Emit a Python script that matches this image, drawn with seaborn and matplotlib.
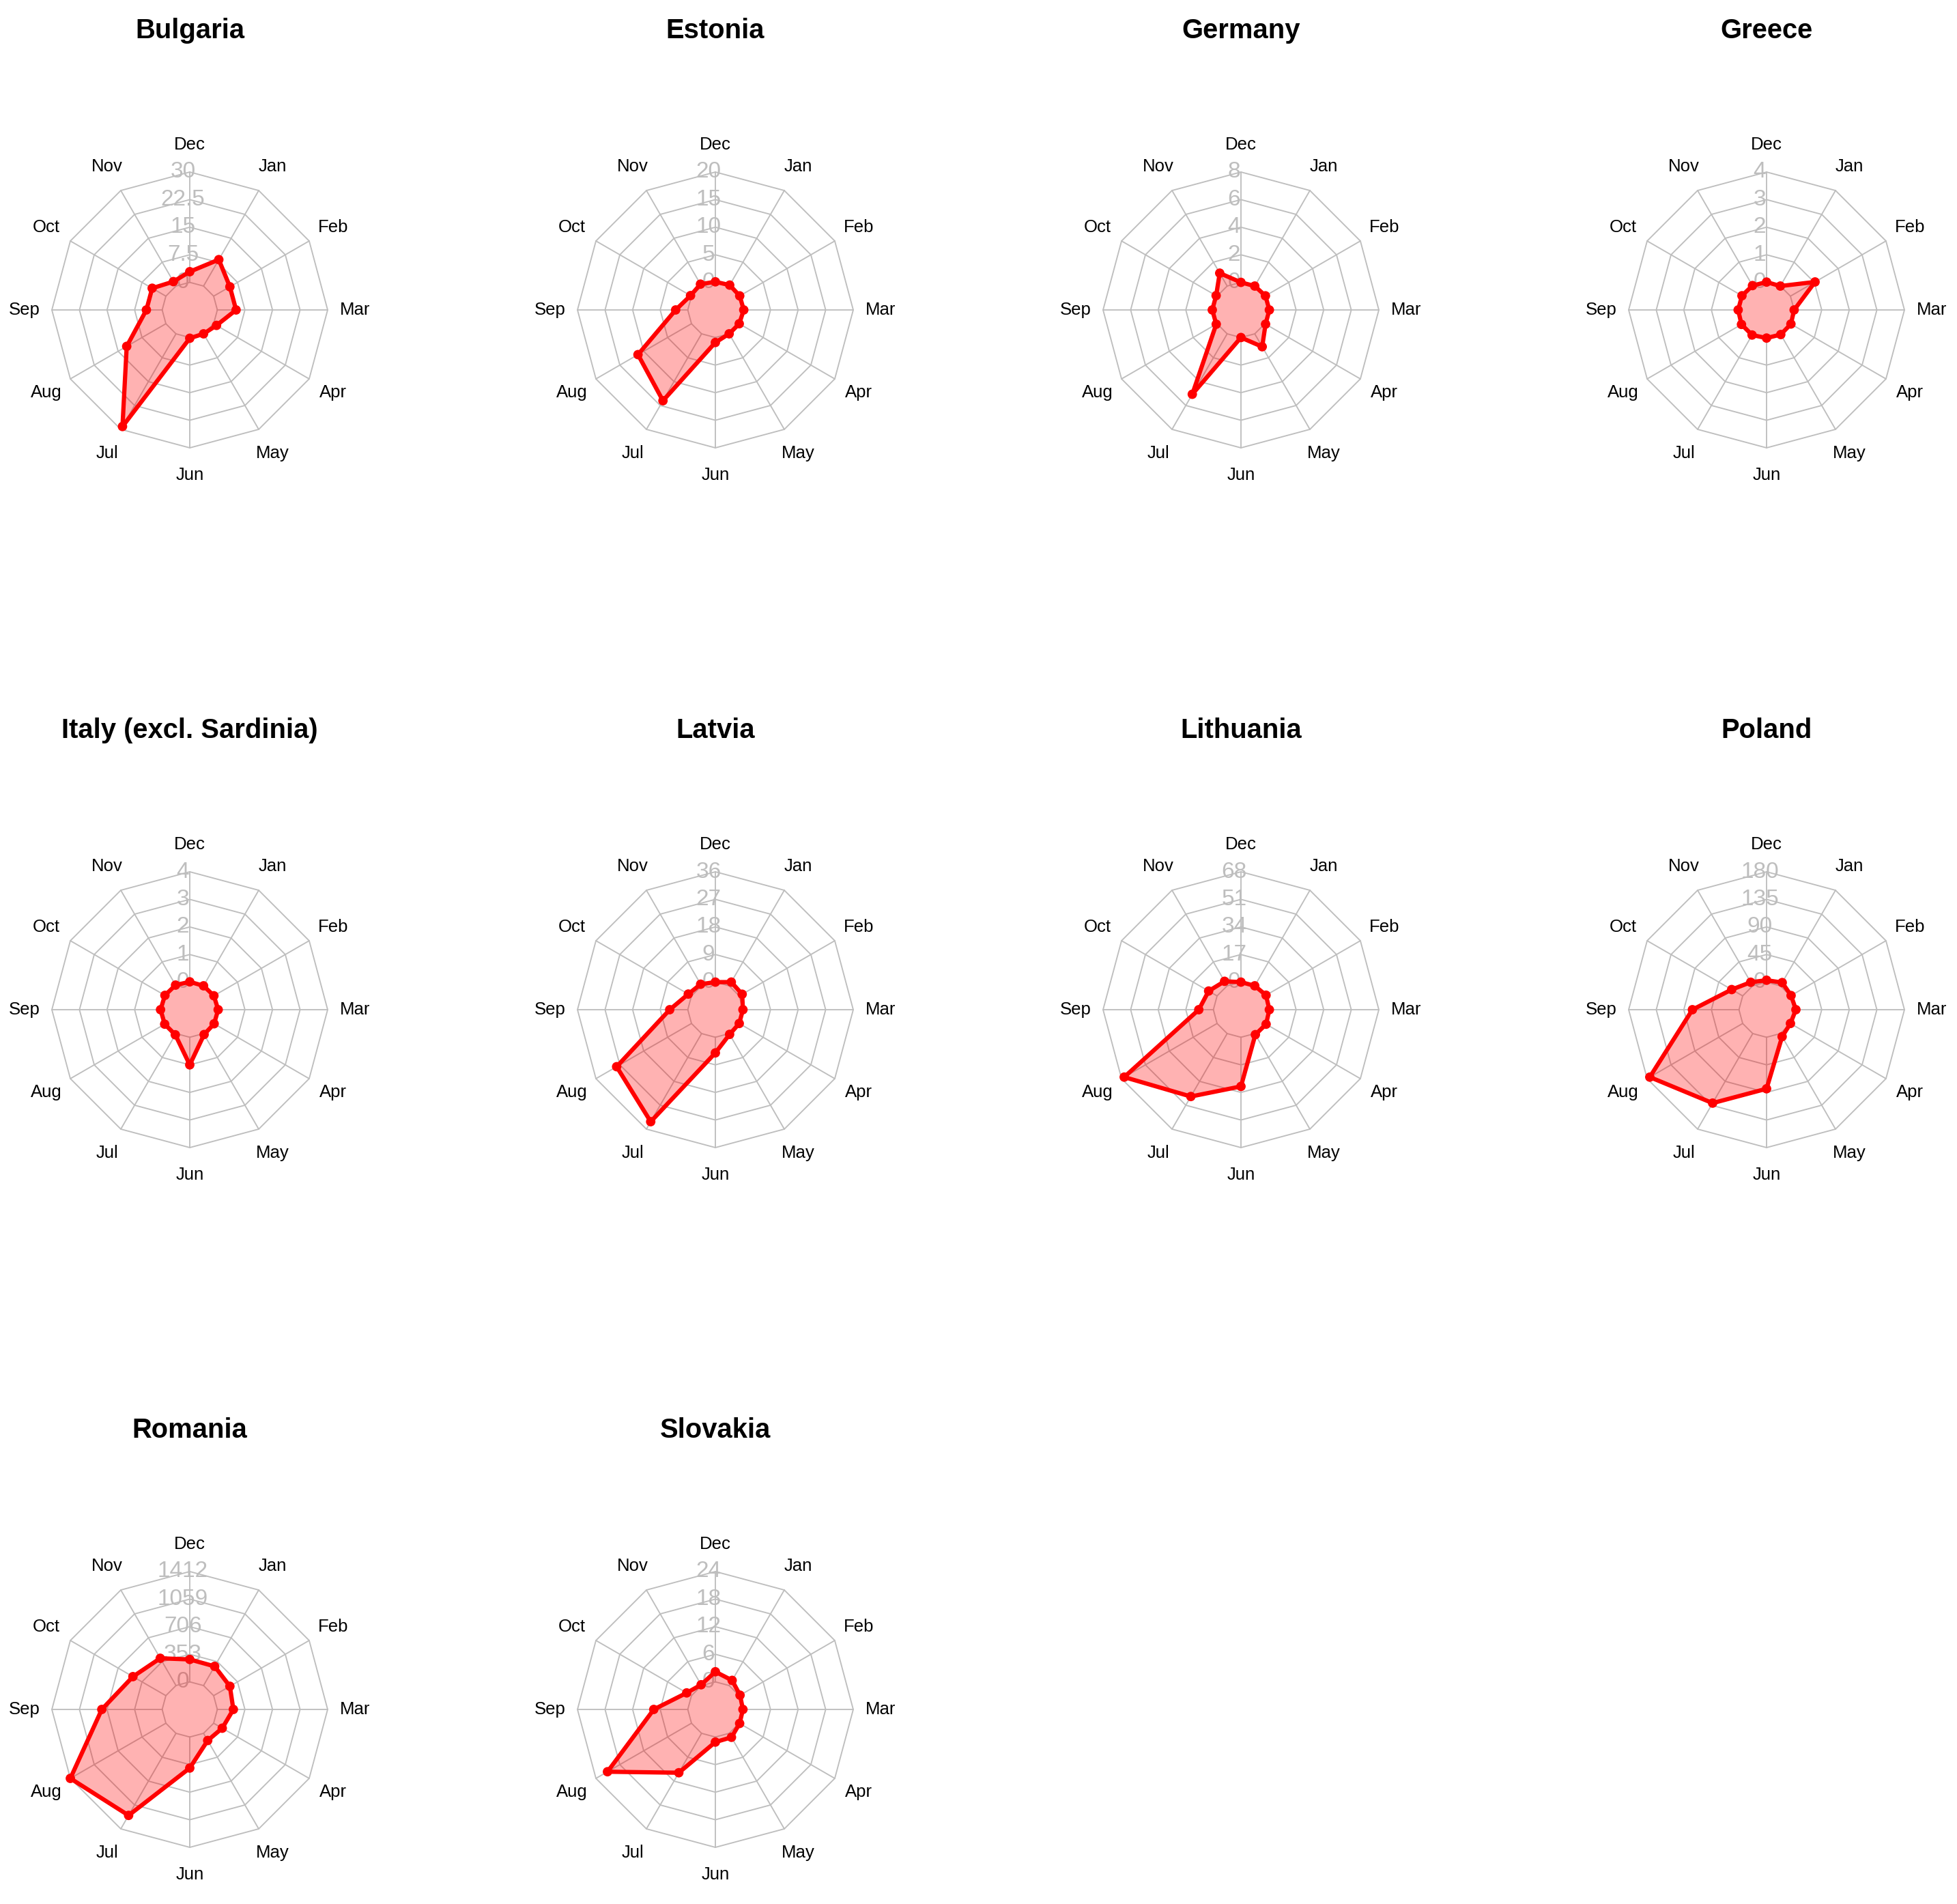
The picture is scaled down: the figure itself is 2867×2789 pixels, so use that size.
import numpy as np
import pandas as pd
import matplotlib
matplotlib.use("Agg")
import matplotlib.pyplot as plt
import seaborn as sns

sns.set_theme(style="white")
plt.rcParams["font.family"] = ["Liberation Sans", "DejaVu Sans"]

MONTHS = ["Jan", "Feb", "Mar", "Apr", "May", "Jun",
          "Jul", "Aug", "Sep", "Oct", "Nov", "Dec"]

COUNTRIES = [
    "Bulgaria", "Estonia", "Germany", "Greece",
    "Italy (excl. Sardinia)", "Latvia", "Lithuania", "Poland",
    "Romania", "Slovakia",
]

# top of each radar scale (labels are 0 .. max in 4 steps)
AXIS_MAX = [30, 20, 8, 4, 4, 36, 68, 180, 1412, 24]

# monthly values, Jan..Dec
bulgaria = [8.3, 5.1, 5.1, 0.9, 0.0, 0.2, 29.1, 12.3, 4.3, 4.3, 1.4, 2.9]
estonia = [0.2, 0.1, 0.15, 0.0, 0.0, 0.9, 14.0, 11.2, 2.2, 0.2, 0.4, 0.1]
germany = [0.0, 0.05, 0.06, 0.06, 1.08, 0.0, 5.06, 0.07, 0.08, 0.08, 1.08, 0.0]
greece = [0.0, 1.03, 0.0, 0.02, 0.03, 0.02, 0.05, 0.05, 0.03, 0.03, 0.02, 0.01]
italy = [0.0, 0.01, 0.03, 0.02, 0.04, 1.0, 0.05, 0.05, 0.06, 0.04, 0.03, 0.01]
latvia = [1.4, 1.1, 0.0, 0.0, 0.3, 5.1, 33.2, 28.2, 5.9, 1.2, 0.6, 0.0]
lithuania = [0.0, 0.85, 0.5, 0.9, 0.75, 30.3, 44.8, 66.1, 9.0, 6.0, 3.2, 0.0]
poland = [6.1, 1.2, 2.9, 0.0, 5.8, 84, 131, 175, 76, 20.7, 6.7, 3.1]
romania = [284, 240, 205, 127, 106, 397, 1213, 1412, 773, 487, 403, 287]
slovakia = [1.3, 0.2, 0.0, 0.1, 1.0, 1.1, 9.9, 21.1, 7.4, 1.2, 0.2, 2.2]

VALUES = [bulgaria, estonia, germany, greece, italy,
          latvia, lithuania, poland, romania, slovakia]

W, H, DPI = 2867, 2789, 300
R = 202          # radar radius in pixels
L = 300          # half size of each panel box in pixels
COL_X = [278, 1048, 1818, 2588]
ROW_Y = [454, 1479, 2504]

GRID = "#BEBEBE"

# Dec on top, months going clockwise
angles = np.deg2rad(90 - 30 * (np.arange(12) + 1))


def fmt(v):
    return f"{v:g}" if v != int(v) else str(int(v))


def radar(ax, name, vals, vmax):
    lim = L / R
    ax.set_xlim(-lim, lim)
    ax.set_ylim(-lim, lim)
    ax.axis("off")

    # polygon grid
    for k in range(1, 6):
        rr = k / 5
        gx = np.append(rr * np.cos(angles), rr * np.cos(angles[0]))
        gy = np.append(rr * np.sin(angles), rr * np.sin(angles[0]))
        ax.plot(gx, gy, color=GRID, lw=0.45, zorder=1)
    for a in angles:
        ax.plot([0.2 * np.cos(a), np.cos(a)], [0.2 * np.sin(a), np.sin(a)],
                color=GRID, lw=0.45, zorder=1)

    # axis labels
    for k, t in enumerate(np.linspace(0, vmax, 5)):
        ax.text(-0.05, 0.2 + 0.2 * k, fmt(round(t, 1)), color=GRID,
                fontsize=8, ha="center", va="center", zorder=2)

    # month labels
    for m, a in zip(MONTHS, angles):
        ax.text(1.2 * np.cos(a), 1.2 * np.sin(a), m, fontsize=6.2,
                ha="center", va="center", color="black", zorder=2)

    df = pd.DataFrame({"month": MONTHS, "value": vals})
    r = 0.2 + 0.8 * df["value"] / vmax
    df["x"] = r * np.cos(angles)
    df["y"] = r * np.sin(angles)
    closed = pd.concat([df, df.iloc[[0]]], ignore_index=True)

    ax.fill(df["x"], df["y"], color=(1, 0, 0, 0.3), lw=0, zorder=3)
    sns.lineplot(data=closed, x="x", y="y", sort=False, estimator=None,
                 color="red", lw=1.5, ax=ax, zorder=4)
    sns.scatterplot(data=df, x="x", y="y", color="red", s=11,
                    edgecolor="none", ax=ax, zorder=5)

    ax.text(0, 398 / R, name, fontsize=9.6, fontweight="bold", color="black",
            ha="center", va="baseline", clip_on=False)


def main():
    fig = plt.figure(figsize=(W / DPI, H / DPI), dpi=DPI)
    fig.patch.set_facecolor("white")

    for i, (name, vals, vmax) in enumerate(zip(COUNTRIES, VALUES, AXIS_MAX)):
        cx = COL_X[i % 4]
        cy = ROW_Y[i // 4]
        ax = fig.add_axes([(cx - L) / W, 1 - (cy + L) / H, 2 * L / W, 2 * L / H])
        radar(ax, name, vals, vmax)

    fig.savefig("out.png", dpi=DPI, facecolor="white")


if __name__ == "__main__":
    main()
